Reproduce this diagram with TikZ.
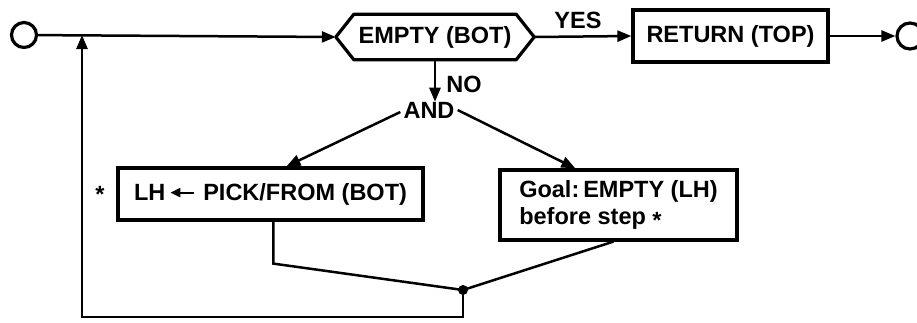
\documentclass[tikz,border=0pt]{standalone}
\usepackage{fontspec}
\setmainfont{Liberation Sans}
\usetikzlibrary{arrows.meta,calc}
\tikzset{
  lbl/.style={font=\fontsize{23.5}{27}\selectfont\bfseries, inner sep=0pt},
  boxline/.style={line width=3.2pt, line join=round},
  stepbox/.style={draw, line width=3.2pt, font=\fontsize{23.5}{27}\selectfont\bfseries, inner sep=0pt},
  conn/.style={line width=2.5pt},
  arr/.style={line width=2.5pt, -{Triangle[length=14pt,width=11pt]}},
  term/.style={circle, draw, line width=3.2pt, inner sep=0pt},
}
\begin{document}
\begin{tikzpicture}[x=1pt,y=-1pt]
\useasboundingbox (0,0) rectangle (917,322);
\clip (0,0) rectangle (917,322);
% terminals
\node[term, minimum size=25pt] (start) at (24,35) {};
\node[term, minimum size=26pt] (stop) at (910,36) {};
\coordinate (J) at (82,35);
% decision hexagon
\node[lbl, minimum width=162pt, minimum height=45pt] (hex) at (435,37) {EMPTY (BOT)};
\coordinate (hexL) at ($(hex.west)+(-18,0)$);
\coordinate (hexR) at ($(hex.east)+(18,0)$);
\draw[boxline] (hexL) -- (hex.north west) -- (hex.north east) -- (hexR) -- (hex.south east) -- (hex.south west) -- cycle;
% return box
\node[stepbox, minimum width=195pt, minimum height=52pt] (ret) at (730.5,36) {RETURN (TOP)};
\node[lbl] (yes) at (578,20) {YES};
% main flow
\draw[arr] (start) -- (hexL);
\draw[arr] (hexR) -- (ret.west);
\draw[arr] (ret.east) -- (stop.west);
% NO branch
\node[lbl] (and) at (429,110) {AND};
\node[lbl] (no) at (464,84) {NO};
\draw[arr] (hex.south) -- (hex.south |- and.north);
% subgoal boxes
\node[stepbox, minimum width=305pt, minimum height=52pt] (lbox) at (270.5,194)
  {LH\,\tikz[baseline=-0.6ex]\draw[line width=2.2pt,-{Triangle[length=10pt,width=9pt]}] (0pt,0pt) -- (-24pt,0pt);\,\,PICK/FROM (BOT)};
\node[lbl] (star) at (100,194) {*};
\node[stepbox, minimum width=237pt, minimum height=70pt, align=left] (rbox) at (618.5,205)
  {Goal:\,EMPTY (LH)\\before step \raisebox{-4pt}{*}};
\draw[arr] ($(and.west)+(-3,2)$) -- ($(lbox.north west)+(170,0)$);
\draw[arr] ($(and.east)+(3,0)$) -- ($(rbox.north west)+(77,0)$);
% join
\node[circle, fill, minimum size=10pt, inner sep=0pt] (dot) at (463,290) {};
\draw[conn] ($(lbox.south west)+(157,0)$) -- ++(0,42) -- (dot.center);
\draw[conn] ($(rbox.south west)+(115,0)$) -- (dot.center);
\draw[arr] (dot.center) -- ++(0,27) -| (J);
\end{tikzpicture}
\end{document}
